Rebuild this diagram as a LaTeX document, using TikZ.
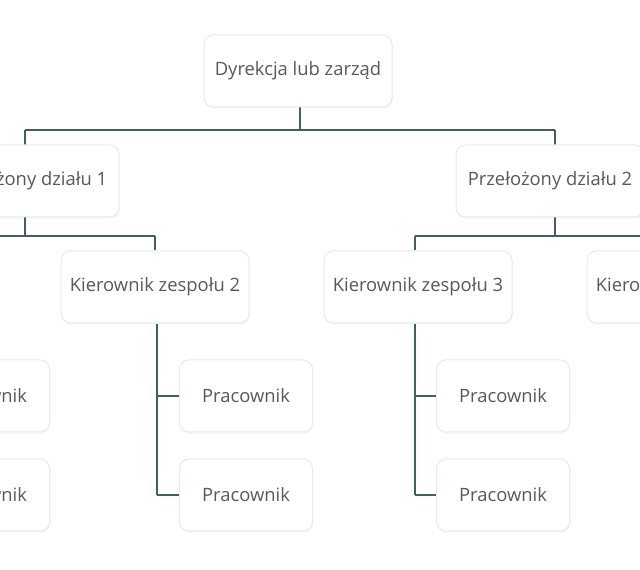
\documentclass[tikz,border=0pt]{standalone}
\usepackage{fontspec}
\setmainfont{Open Sans}
\usetikzlibrary{shadows}
\definecolor{linkcol}{RGB}{62,96,96}
\definecolor{boxline}{RGB}{230,237,226}
\definecolor{txtcol}{RGB}{85,90,90}
\tikzset{
  every picture/.style={line width=0.75pt},
  box/.style={draw=boxline, fill=white, rounded corners=7pt, minimum width=188*0.75pt, minimum height=72*0.75pt,
    text=txtcol, font=\fontsize{13.8}{15}\selectfont, drop shadow={shadow xshift=0.6pt, shadow yshift=-1.2pt, opacity=0.08}},
  small/.style={box, minimum width=133*0.75pt},
  link/.style={draw=linkcol, line width=1pt}
}
\begin{document}
\begin{tikzpicture}[x=0.75pt,y=0.75pt,yscale=-1,xscale=1]
\useasboundingbox (0,0) rectangle (640,570);
\clip (0,0) rectangle (640,570);

% connectors
\draw [link] (300,106) -- (300,130) (25,130) -- (555,130) (25,130) -- (25,145) (555,130) -- (555,145);
\draw [link] (25,216) -- (25,236) (-110,236) -- (155,236) (-110,236) -- (-110,250) (155,236) -- (155,250);
\draw [link] (555,216) -- (555,236) (415,236) -- (680,236) (415,236) -- (415,250) (680,236) -- (680,250);
\draw [link] (-106,324) -- (-106,495) (-106,396) -- (-83,396) (-106,495) -- (-83,495);
\draw [link] (157,324) -- (157,495) (157,396) -- (180,396) (157,495) -- (180,495);
\draw [link] (415,324) -- (415,495) (415,396) -- (437,396) (415,495) -- (437,495);

% Text Node
\node [box] (zarzad) at (298,71) {Dyrekcja lub zarząd};
\node [box] (dzial1) at (25,181) {Przełożony działu 1};
\node [box] (dzial2) at (550,181) {Przełożony działu 2};
\node [box] (zesp1) at (-108,287) {Kierownik zespołu 1};
\node [box] (zesp2) at (155,287) {Kierownik zespołu 2};
\node [box] (zesp3) at (418,287) {Kierownik zespołu 3};
\node [box] (zesp4) at (681,287) {Kierownik zespołu 4};
\node [small] (prac1) at (-17,396) {Pracownik};
\node [small] (prac2) at (-17,495) {Pracownik};
\node [small] (prac3) at (246,396) {Pracownik};
\node [small] (prac4) at (246,495) {Pracownik};
\node [small] (prac5) at (503,396) {Pracownik};
\node [small] (prac6) at (503,495) {Pracownik};

\end{tikzpicture}
\end{document}
